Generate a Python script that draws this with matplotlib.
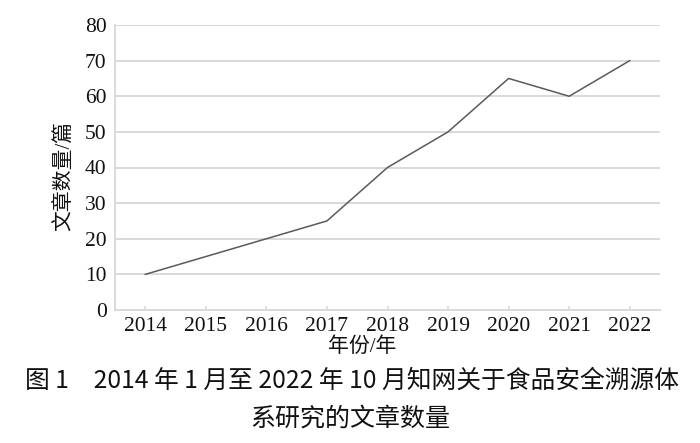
import matplotlib
matplotlib.use("Agg")
import matplotlib.pyplot as plt

years = ["2014", "2015", "2016", "2017", "2018", "2019", "2020", "2021", "2022"]
counts = [10, 15, 20, 25, 40, 50, 65, 60, 70]
y_ticks = [0, 10, 20, 30, 40, 50, 60, 70, 80]

ylabel = "文章数量/篇"
xlabel = "年份/年"
caption1 = "图 1　2014 年 1 月至 2022 年 10 月知网关于食品安全溯源体"
caption2 = "系研究的文章数量"

serif = ["Liberation Serif", "Noto Sans CJK SC", "DejaVu Sans"]
sans = ["Noto Sans CJK SC", "DejaVu Sans"]

fig = plt.figure(figsize=(7.0, 4.43), dpi=100)
W, H = 700, 443
left, right, top, bottom = 115, 660, 25, 310
ax = fig.add_axes([left / W, 1 - bottom / H, (right - left) / W, (bottom - top) / H])

x = list(range(len(years)))
ax.plot(x, counts, color="#5a5a5a", linewidth=1.1, zorder=3)

ax.set_xlim(-0.5, len(years) - 0.5)
ax.set_ylim(0, 80)
ax.set_yticks(y_ticks)
ax.set_xticks(x)
ax.set_xticklabels(years)
ax.grid(axis="y", color="#d9d9d9", linewidth=1.4, zorder=0)
ax.set_axisbelow(True)

for s in ["top", "right"]:
    ax.spines[s].set_visible(False)
for s in ["left", "bottom"]:
    ax.spines[s].set_color("#d9d9d9")
    ax.spines[s].set_linewidth(1.4)

ax.tick_params(axis="y", length=0, pad=6, labelsize=15.5)
ax.tick_params(axis="x", direction="in", length=3, color="#d9d9d9", width=1.2, pad=5, labelsize=15.5)
for lab in ax.get_xticklabels() + ax.get_yticklabels():
    lab.set_family(serif)
    lab.set_color("#111111")

fig.text(65 / W, 1 - 176 / H, ylabel, rotation=90, ha="center", va="center",
         fontsize=15, family=serif, color="#111111")
fig.text(362 / W, 1 - 347 / H, xlabel, ha="center", va="center",
         fontsize=15, family=serif, color="#111111")

fig.text(352 / W, 1 - 381 / H, caption1, ha="center", va="center",
         fontsize=17.8, family=sans, color="#111111")
fig.text(350 / W, 1 - 419 / H, caption2, ha="center", va="center",
         fontsize=18, family=sans, color="#111111")

fig.savefig("out.png", dpi=100, facecolor="white")
